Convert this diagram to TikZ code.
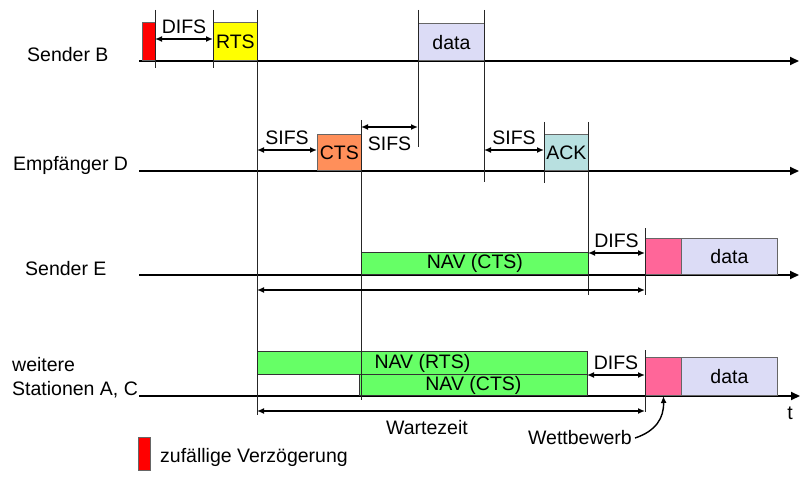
\documentclass[tikz,border=0pt]{standalone}
\usepackage{fontspec}
\setmainfont{Liberation Sans}
\usetikzlibrary{arrows.meta}
\definecolor{delayred}{HTML}{FF0000}
\definecolor{rtsyellow}{HTML}{FFFF00}
\definecolor{datablue}{HTML}{DCDCF6}
\definecolor{ctsorange}{HTML}{FF8F5A}
\definecolor{ackteal}{HTML}{B8E0E0}
\definecolor{navgreen}{HTML}{66FF66}
\definecolor{contpink}{HTML}{FF6699}
\begin{document}
\begin{tikzpicture}[x=1pt,y=-1pt,
  font=\fontsize{19.5}{22}\selectfont,
  timeline/.style={line width=1.8pt,-{Triangle[length=9pt,width=8pt]}},
  vline/.style={line width=0.8pt,black!85},
  frame/.style={draw=black!60,line width=0.8pt,inner sep=0pt,anchor=south west},
  navbox/.style={frame,draw=black!80,fill=navgreen},
  span/.style={line width=1.4pt,{Latex[length=7pt,width=6pt]}-{Latex[length=7pt,width=6pt]}},
  above lbl/.style={anchor=base,inner sep=0pt,yshift=5.5pt},
  below lbl/.style={anchor=base,inner sep=0pt,yshift=-24pt}
]
\useasboundingbox (0,0) rectangle (802,481);

% station labels
\node[anchor=base west,inner sep=0] (lB) at (27,62) {Sender B};
\node[anchor=base west,inner sep=0] (lD) at (13,170.5) {Empfänger D};
\node[anchor=base west,inner sep=0] (lE) at (25,275) {Sender E};
\node[anchor=base west,inner sep=0] (lW1) at (12,371) {weitere};
\node[anchor=base west,inner sep=0] (lW2) at (12,395) {Stationen A, C};

% time axes
\coordinate (tB0) at (139,61);  \coordinate (tB1) at (799,61);
\coordinate (tD0) at (139,171); \coordinate (tD1) at (799,171);
\coordinate (tE0) at (139,275); \coordinate (tE1) at (799,275);
\coordinate (tW0) at (139,396); \coordinate (tW1) at (800,396);
\draw[timeline] (tB0) -- (tB1);
\draw[timeline] (tD0) -- (tD1);
\draw[timeline] (tE0) -- (tE1);
\draw[timeline] (tW0) -- (tW1);

% frames of sender B
\node[frame,fill=delayred,minimum width=13pt,minimum height=38pt] (rnd) at (142,61) {};
\node[frame,fill=rtsyellow,minimum width=44pt,minimum height=38pt] (rts) at (213,61) {RTS};
\node[frame,fill=datablue,minimum width=66pt,minimum height=37pt] (dataB) at (418,61) {data};

% frames of receiver D
\node[frame,fill=ctsorange,minimum width=44pt,minimum height=36pt] (cts) at (317,171) {CTS};
\node[frame,fill=ackteal,minimum width=44pt,minimum height=36pt] (ack) at (544,171) {ACK};

% sender E
\node[navbox,minimum width=227pt,minimum height=22pt] (navE) at (361,275) {NAV (CTS)};
\node[frame,fill=contpink,minimum width=36pt,minimum height=36pt] (cwE) at (645,275) {};
\node[frame,fill=datablue,minimum width=96pt,minimum height=36pt] (dataE) at (681,275) {data};

% further stations A, C
\node[navbox,minimum width=330pt,minimum height=23pt] (navRTS) at (257,375) {NAV (RTS)};
\node[navbox,minimum width=228pt,minimum height=21pt] (navCTS) at (359,396) {NAV (CTS)};
\node[frame,fill=contpink,minimum width=36pt,minimum height=38pt] (cwW) at (645,396) {};
\node[frame,fill=datablue,minimum width=96pt,minimum height=38pt] (dataW) at (681,396) {data};

% vertical guide lines
\foreach \x/\a/\b in {155/10/68, 213/10/68, 257/10/415, 361/120/400,
                      418/10/147, 484/10/182, 544/122/183, 588/122/295,
                      645/228/295, 645/350/412}
  \draw[vline] (\x,\a) -- (\x,\b);

% interframe spaces
\coordinate (difs1a) at (155,39);  \coordinate (difs1b) at (213,39);
\coordinate (sifs1a) at (257,150); \coordinate (sifs1b) at (317,150);
\coordinate (sifs2a) at (361,127); \coordinate (sifs2b) at (418,127);
\coordinate (sifs3a) at (484,150); \coordinate (sifs3b) at (544,150);
\coordinate (difs2a) at (588,253); \coordinate (difs2b) at (645,253);
\coordinate (waitEa) at (257,290); \coordinate (waitEb) at (645,290);
\coordinate (difs3a) at (587,375); \coordinate (difs3b) at (645,375);
\coordinate (waitWa) at (257,411); \coordinate (waitWb) at (645,411);
\draw[span] (difs1a) -- node[above lbl] {DIFS} (difs1b);
\draw[span] (sifs1a) -- node[above lbl] {SIFS} (sifs1b);
\draw[span] (sifs2a) -- node[below lbl] {SIFS} (sifs2b);
\draw[span] (sifs3a) -- node[above lbl] {SIFS} (sifs3b);
\draw[span] (difs2a) -- node[above lbl] {DIFS} (difs2b);
\draw[span] (waitEa) -- (waitEb);
\draw[span] (difs3a) -- node[above lbl] {DIFS} (difs3b);
\draw[span] (waitWa) -- (waitWb);

\node[anchor=base,inner sep=0] (wait) at (427,434) {Wartezeit};
\node[anchor=base east,inner sep=0] (contest) at (632,444) {Wettbewerb};
\node[anchor=base,inner sep=0] (taxis) at (790,419) {t};
\draw[line width=1.4pt,-{Latex[length=7pt,width=6pt]}]
  ([xshift=3pt,yshift=-1pt]contest.east) .. controls (656,431) and (664,418) .. (cwW.south);

% legend
\node[frame,fill=delayred,minimum width=12pt,minimum height=33pt] (legbox) at (138,471) {};
\node[anchor=base west,inner sep=0] (legtext) at (160,462) {zufällige Verzögerung};
\end{tikzpicture}
\end{document}
